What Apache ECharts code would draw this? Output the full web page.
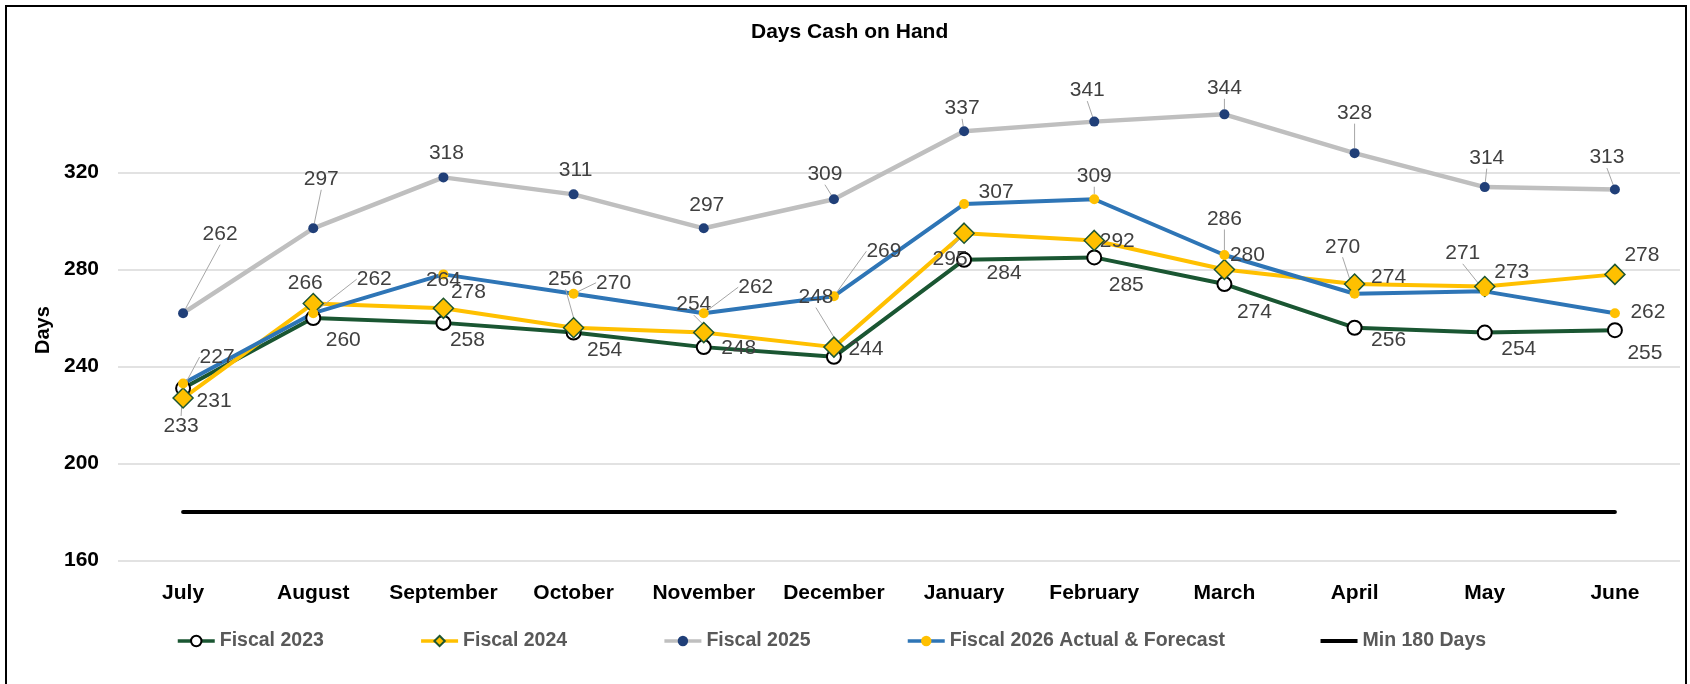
<!DOCTYPE html>
<html>
<head>
<meta charset="utf-8">
<script src="https://cdn.jsdelivr.net/npm/echarts@6/dist/echarts.min.js"></script>
<style>
html,body{margin:0;padding:0;background:#fff;}
#chart{width:1690px;height:684px;}
</style>
</head>
<body>
<div id="chart"></div>
<script>
// ---- data ----
const MONTHS = ['July','August','September','October','November','December','January','February','March','April','May','June'];
const FY2023 = [231,260,258,254,248,244,284,285,274,256,254,255];
const FY2024 = [227,266,264,256,254,248,295,292,280,274,273,278];
const FY2025 = [262,297,318,311,297,309,337,341,344,328,314,313];
const FY2026 = [233,262,278,270,262,269,307,309,286,270,271,262];
const MIN_DAYS = [180,180,180,180,180,180,180,180,180,180,180,180];
const SERIES_NAMES = ['Fiscal 2023','Fiscal 2024','Fiscal 2025','Fiscal 2026 Actual & Forecast','Min 180 Days'];

// ---- label placement (style only: offsets of label centre from its point, px) ----
const LABEL_OFFSETS = [
  [[31,13],[30,22],[24,17],[31,18],[35,1],[32,-8],[40,13],[32,28],[30,28],[34,12],[34,17],[30,23]],
  [[34,-41],[-8,-20],[0,-28],[-8,-49],[-10,-28],[-18,-50],[-14,26],[23,1],[23,-14],[34,-7],[27,-14],[27,-19]],
  [[37,-79],[8,-49],[3,-24],[2,-24],[3,-23],[-9,-25],[-2,-23],[-7,-31],[0,-26],[0,-40],[2,-29],[-8,-32]],
  [[-2,43],[61,-34],[25,18],[40,-11],[52,-26],[50,-45],[32,-12],[0,-23],[0,-36],[-12,-47],[-22,-38],[33,-1]]
];
const LEADERS = [
  [0,0,0,0,0,0,0,0,0,0,0,0],
  [1,0,0,1,1,1,1,0,0,0,0,0],
  [1,1,0,0,0,1,1,1,1,1,1,1],
  [1,1,0,1,1,1,0,1,1,1,1,0]
];

const chart = echarts.init(document.getElementById('chart'), null, {renderer:'canvas'});
const FONT = 'Liberation Sans, Arial, sans-serif';

function labelLayout(p){
  const o = LABEL_OFFSETS[p.seriesIndex][p.dataIndex];
  const r = p.rect;
  return {x: r.x + r.width/2 + o[0], y: r.y + r.height/2 + o[1], align:'center', verticalAlign:'middle'};
}
function items(vals, si){
  return vals.map((v,i)=>({value:v, labelLine:{show: !!LEADERS[si][i]}}));
}
const commonLabel = {show:true, fontSize:21, color:'#404040', fontFamily:FONT, position:'inside'};
const commonLabelLine = {show:false, lineStyle:{color:'#A6A6A6', width:1}};

chart.setOption({
  animation:false,
  backgroundColor:'#fff',
  textStyle:{fontFamily:FONT},
  title:{text:'Days Cash on Hand', left:751, top:22, padding:0,
    textStyle:{fontSize:21, fontWeight:'bold', color:'#000', fontFamily:FONT}},
  graphic:[{type:'rect', shape:{x:6,y:6,width:1680,height:720}, style:{fill:null, stroke:'#000', lineWidth:2}, silent:true, z:-1}],
  legend:{
    data:[
      SERIES_NAMES[0], SERIES_NAMES[1], SERIES_NAMES[2], SERIES_NAMES[3],
      {name:SERIES_NAMES[4], icon:'path://M0,0L37,0L37,4L0,4Z'}
    ],
    left:176, top:631, padding:0, itemGap:95.5, itemWidth:37, itemHeight:13,
    lineStyle:{width:3.5},
    textStyle:{fontSize:19.5, fontWeight:'bold', color:'#595959', fontFamily:FONT}
  },
  grid:{left:118, right:10, top:99.8, bottom:123.5, containLabel:false},
  xAxis:{
    type:'category', data:MONTHS, boundaryGap:true,
    axisLine:{show:false}, axisTick:{show:false},
    axisLabel:{fontSize:21, fontWeight:'bold', color:'#000', margin:22, fontFamily:FONT, interval:0}
  },
  yAxis:{
    type:'value', min:160, max:350, interval:40,
    name:'Days', nameLocation:'middle', nameRotate:90, nameGap:53,
    nameTextStyle:{fontSize:20, fontWeight:'bold', color:'#000', fontFamily:FONT},
    axisLine:{show:false}, axisTick:{show:false},
    axisLabel:{fontSize:21, fontWeight:'bold', color:'#000', margin:19, fontFamily:FONT, showMaxLabel:false},
    splitLine:{show:true, showMaxLine:false, lineStyle:{color:'#D9D9D9', width:1.5}}
  },
  series:[
    {name:SERIES_NAMES[0], type:'line', data:items(FY2023,0), symbol:'circle', symbolSize:14,
     lineStyle:{color:'#1A5632', width:4}, itemStyle:{color:'#fff', borderColor:'#000', borderWidth:2},
     label:commonLabel, labelLine:commonLabelLine, labelLayout:labelLayout, emphasis:{disabled:true}},
    {name:SERIES_NAMES[1], type:'line', data:items(FY2024,1), symbol:'diamond', symbolSize:20,
     lineStyle:{color:'#FFC000', width:4}, itemStyle:{color:'#FFC000', borderColor:'#1E5631', borderWidth:1.5},
     label:commonLabel, labelLine:commonLabelLine, labelLayout:labelLayout, emphasis:{disabled:true}},
    {name:SERIES_NAMES[2], type:'line', data:items(FY2025,2), symbol:'circle', symbolSize:10,
     lineStyle:{color:'#BFBFBF', width:4.5}, itemStyle:{color:'#203F78', borderWidth:0},
     label:commonLabel, labelLine:commonLabelLine, labelLayout:labelLayout, emphasis:{disabled:true}},
    {name:SERIES_NAMES[3], type:'line', data:items(FY2026,3), symbol:'circle', symbolSize:10,
     lineStyle:{color:'#2E75B6', width:4}, itemStyle:{color:'#FFC000', borderWidth:0},
     label:commonLabel, labelLine:commonLabelLine, labelLayout:labelLayout, emphasis:{disabled:true}},
    {name:SERIES_NAMES[4], type:'line', data:MIN_DAYS, symbol:'none', showSymbol:false,
     lineStyle:{color:'#000', width:4, cap:'round'}, itemStyle:{color:'#000'}, emphasis:{disabled:true}}
  ]
});
</script>
</body>
</html>
